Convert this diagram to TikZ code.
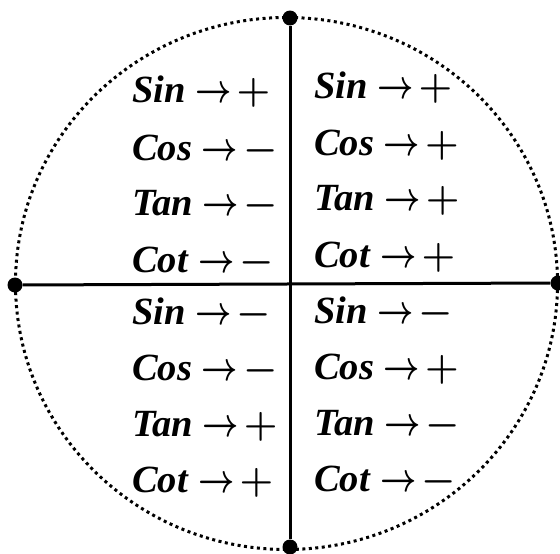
\documentclass[tikz,border=0pt]{standalone}
\usepackage{fix-cm}
\usepackage{fontspec}
\setmainfont{Liberation Serif}
\usepackage{tikz}
\usetikzlibrary{positioning}
\newcommand{\trigname}[1]{\textbf{\textit{#1}}}
\newcommand{\signto}[1]{\scalebox{0.82}[1.05]{\boldmath$\rightarrow$}\hspace{5pt}{\boldmath$#1$}}

\begin{document}
\begin{tikzpicture}[x=1pt, y=-1pt,
    enddot/.style={circle, fill=black, inner sep=0pt, minimum size=15pt},
    trig/.style={anchor=base west, inner sep=0pt, font=\fontsize{38.5}{40}\selectfont}]
    \useasboundingbox (0,0) rectangle (560,554);

    % Dotted circle
    \draw[line width=3pt, dash pattern=on 3pt off 3.5pt] (286.5,283.5) ellipse [x radius=271, y radius=266];

    % End points of the axes
    \node[enddot] (top) at (290,18) {};
    \node[enddot] (bottom) at (290,547) {};
    \node[enddot] (left) at (15,285) {};
    \node[enddot] (right) at (558,283) {};

    % Axes
    \draw[line width=3pt] (top) -- (bottom);
    \draw[line width=3pt] (left) -- (right);

    % First quadrant (top right)
    \foreach \fn/\sg/\y [count=\i] in {Sin/+/98, Cos/+/155, Tan/+/210, Cot/+/267} {
        \node[trig] (qone\i) at (314,\y) {\trigname{\fn} \signto{\sg}};
    }

    % Second quadrant (top left)
    \foreach \fn/\sg/\y [count=\i] in {Sin/+/102, Cos/-/160, Tan/-/215, Cot/-/272} {
        \node[trig] (qtwo\i) at (132,\y) {\trigname{\fn} \signto{\sg}};
    }

    % Third quadrant (bottom left)
    \foreach \fn/\sg/\y [count=\i] in {Sin/-/324, Cos/-/380, Tan/+/436, Cot/+/492} {
        \node[trig] (qthree\i) at (132,\y) {\trigname{\fn} \signto{\sg}};
    }

    % Fourth quadrant (bottom right)
    \foreach \fn/\sg/\y [count=\i] in {Sin/-/323, Cos/+/379, Tan/-/435, Cot/-/491} {
        \node[trig] (qfour\i) at (314,\y) {\trigname{\fn} \signto{\sg}};
    }

\end{tikzpicture}
\end{document}
